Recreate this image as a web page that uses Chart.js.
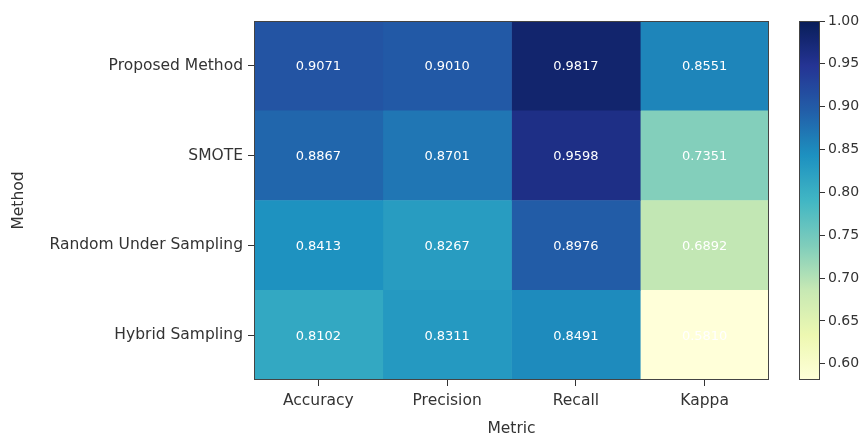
<!DOCTYPE html>
<html>
<head>
<meta charset="utf-8">
<script src="https://cdn.jsdelivr.net/npm/chart.js@4/dist/chart.umd.min.js"></script>
<style>
  html, body { margin: 0; padding: 0; background: #ffffff; }
  #wrap { position: relative; width: 867px; height: 438px; }
  canvas { position: absolute; left: 0; top: 0; }
</style>
</head>
<body>
<div id="wrap">
  <canvas id="heat" width="867" height="438"></canvas>
  <canvas id="cbar" width="867" height="438"></canvas>
</div>
<script>
// Evaluation scores of each resampling method
const metrics = ['Accuracy', 'Precision', 'Recall', 'Kappa'];
const methods = ['Proposed Method', 'SMOTE', 'Random Under Sampling', 'Hybrid Sampling'];
const accuracy  = [0.9071, 0.8867, 0.8413, 0.8102];
const precision = [0.9010, 0.8701, 0.8267, 0.8311];
const recall    = [0.9817, 0.9598, 0.8976, 0.8491];
const kappa     = [0.8551, 0.7351, 0.6892, 0.5810];
const colorbarTicks = [0.60, 0.65, 0.70, 0.75, 0.80, 0.85, 0.90, 0.95, 1.00];
const colorMin = 0.581;
const colorMax = 1.00;

const columns = [accuracy, precision, recall, kappa];

// YlGnBu colour ramp
const ramp = ['#ffffd9', '#edf8b1', '#c7e9b4', '#7fcdbb', '#41b6c4', '#1d91c0', '#225ea8', '#253494', '#081d58'];
function hexRgb(h) { return [1, 3, 5].map(i => parseInt(h.substr(i, 2), 16)); }
function colorFor(v) {
  let t = (v - colorMin) / (colorMax - colorMin);
  t = Math.max(0, Math.min(1, t));
  const p = t * (ramp.length - 1);
  const i = Math.min(ramp.length - 2, Math.floor(p));
  const f = p - i;
  const a = hexRgb(ramp[i]), b = hexRgb(ramp[i + 1]);
  const c = a.map((x, k) => Math.round(x + (b[k] - x) * f));
  return `rgb(${c[0]},${c[1]},${c[2]})`;
}

const FONT = "'DejaVu Sans', sans-serif";
const TEXT = '#333333';

// Cell value annotations
const cellLabels = {
  id: 'cellLabels',
  afterDatasetsDraw(chart) {
    const ctx = chart.ctx;
    ctx.save();
    ctx.font = `13px ${FONT}`;
    ctx.fillStyle = '#ffffff';
    ctx.textAlign = 'center';
    ctx.textBaseline = 'middle';
    chart.data.datasets.forEach((ds, di) => {
      chart.getDatasetMeta(di).data.forEach((el, i) => {
        const p = el.getProps(['x', 'y', 'base'], true);
        ctx.fillText(ds.values[i].toFixed(4), (p.x + p.base) / 2, p.y + 1);
      });
    });
    ctx.restore();
  }
};

// Thin frame around the plotting area
const frame = {
  id: 'frame',
  afterDraw(chart) {
    const a = chart.chartArea, ctx = chart.ctx;
    ctx.save();
    ctx.strokeStyle = '#444444';
    ctx.lineWidth = 1;
    ctx.strokeRect(a.left + 0.5, a.top + 0.5, a.right - a.left - 1, a.bottom - a.top - 1);
    ctx.restore();
  }
};

new Chart(document.getElementById('heat'), {
  type: 'bar',
  data: {
    labels: methods,
    datasets: metrics.map((m, c) => ({
      label: m,
      values: columns[c],
      data: methods.map(() => [c, c + 1]),
      backgroundColor: columns[c].map(colorFor),
      borderWidth: 0,
      grouped: false,
      barPercentage: 1,
      categoryPercentage: 1
    }))
  },
  options: {
    indexAxis: 'y',
    responsive: false,
    animation: false,
    layout: { padding: { left: 0, top: 21, right: 98, bottom: 0 } },
    plugins: { legend: { display: false }, tooltip: { enabled: false } },
    scales: {
      x: {
        type: 'linear',
        min: 0, max: 4,
        afterBuildTicks(s) { s.ticks = metrics.map((_, i) => ({ value: i + 0.5 })); },
        afterFit(s) { s.height = 58; },
        ticks: {
          callback: (v) => metrics[Math.floor(v)],
          font: { family: FONT, size: 15.5 },
          color: TEXT,
          padding: 6,
          maxRotation: 0
        },
        grid: { drawOnChartArea: false, drawTicks: true, tickLength: 6, color: '#333333' },
        border: { display: false },
        title: {
          display: true, text: 'Metric',
          font: { family: FONT, size: 15.5 }, color: TEXT,
          padding: { top: 0, bottom: 0 }
        }
      },
      y: {
        type: 'category',
        afterFit(s) { s.width = 254; },
        ticks: {
          font: { family: FONT, size: 15.5 },
          color: TEXT,
          padding: 5
        },
        grid: { offset: false, drawOnChartArea: false, drawTicks: true, tickLength: 6, color: '#333333' },
        border: { display: false },
        title: {
          display: true, text: 'Method',
          font: { family: FONT, size: 15.5 }, color: TEXT,
          padding: { top: 10, bottom: 0 }
        }
      }
    }
  },
  plugins: [cellLabels, frame]
});

// Colour scale bar
new Chart(document.getElementById('cbar'), {
  type: 'bar',
  data: {
    labels: ['scale'],
    datasets: [{
      data: [[colorMin, colorMax]],
      borderWidth: 0,
      barPercentage: 1,
      categoryPercentage: 1,
      backgroundColor(ctx) {
        const chart = ctx.chart, a = chart.chartArea;
        if (!a) return ramp[4];
        const ys = chart.scales.y;
        const g = chart.ctx.createLinearGradient(0, ys.getPixelForValue(colorMin), 0, ys.getPixelForValue(colorMax));
        for (let k = 0; k <= 40; k++) {
          const v = colorMin + (colorMax - colorMin) * k / 40;
          g.addColorStop(k / 40, colorFor(v));
        }
        return g;
      }
    }]
  },
  options: {
    responsive: false,
    animation: false,
    layout: { padding: { left: 799, top: 21, right: 0, bottom: 58 } },
    plugins: { legend: { display: false }, tooltip: { enabled: false } },
    scales: {
      x: { display: false },
      y: {
        position: 'right',
        min: colorMin, max: colorMax,
        afterBuildTicks(s) { s.ticks = colorbarTicks.map(v => ({ value: v })); },
        afterFit(s) { s.width = 47; },
        ticks: {
          callback: (v) => v.toFixed(2),
          font: { family: FONT, size: 14 },
          color: TEXT,
          padding: 3
        },
        grid: { drawOnChartArea: false, drawTicks: true, tickLength: 5, color: '#333333' },
        border: { display: false }
      }
    }
  },
  plugins: [frame]
});
</script>
</body>
</html>
